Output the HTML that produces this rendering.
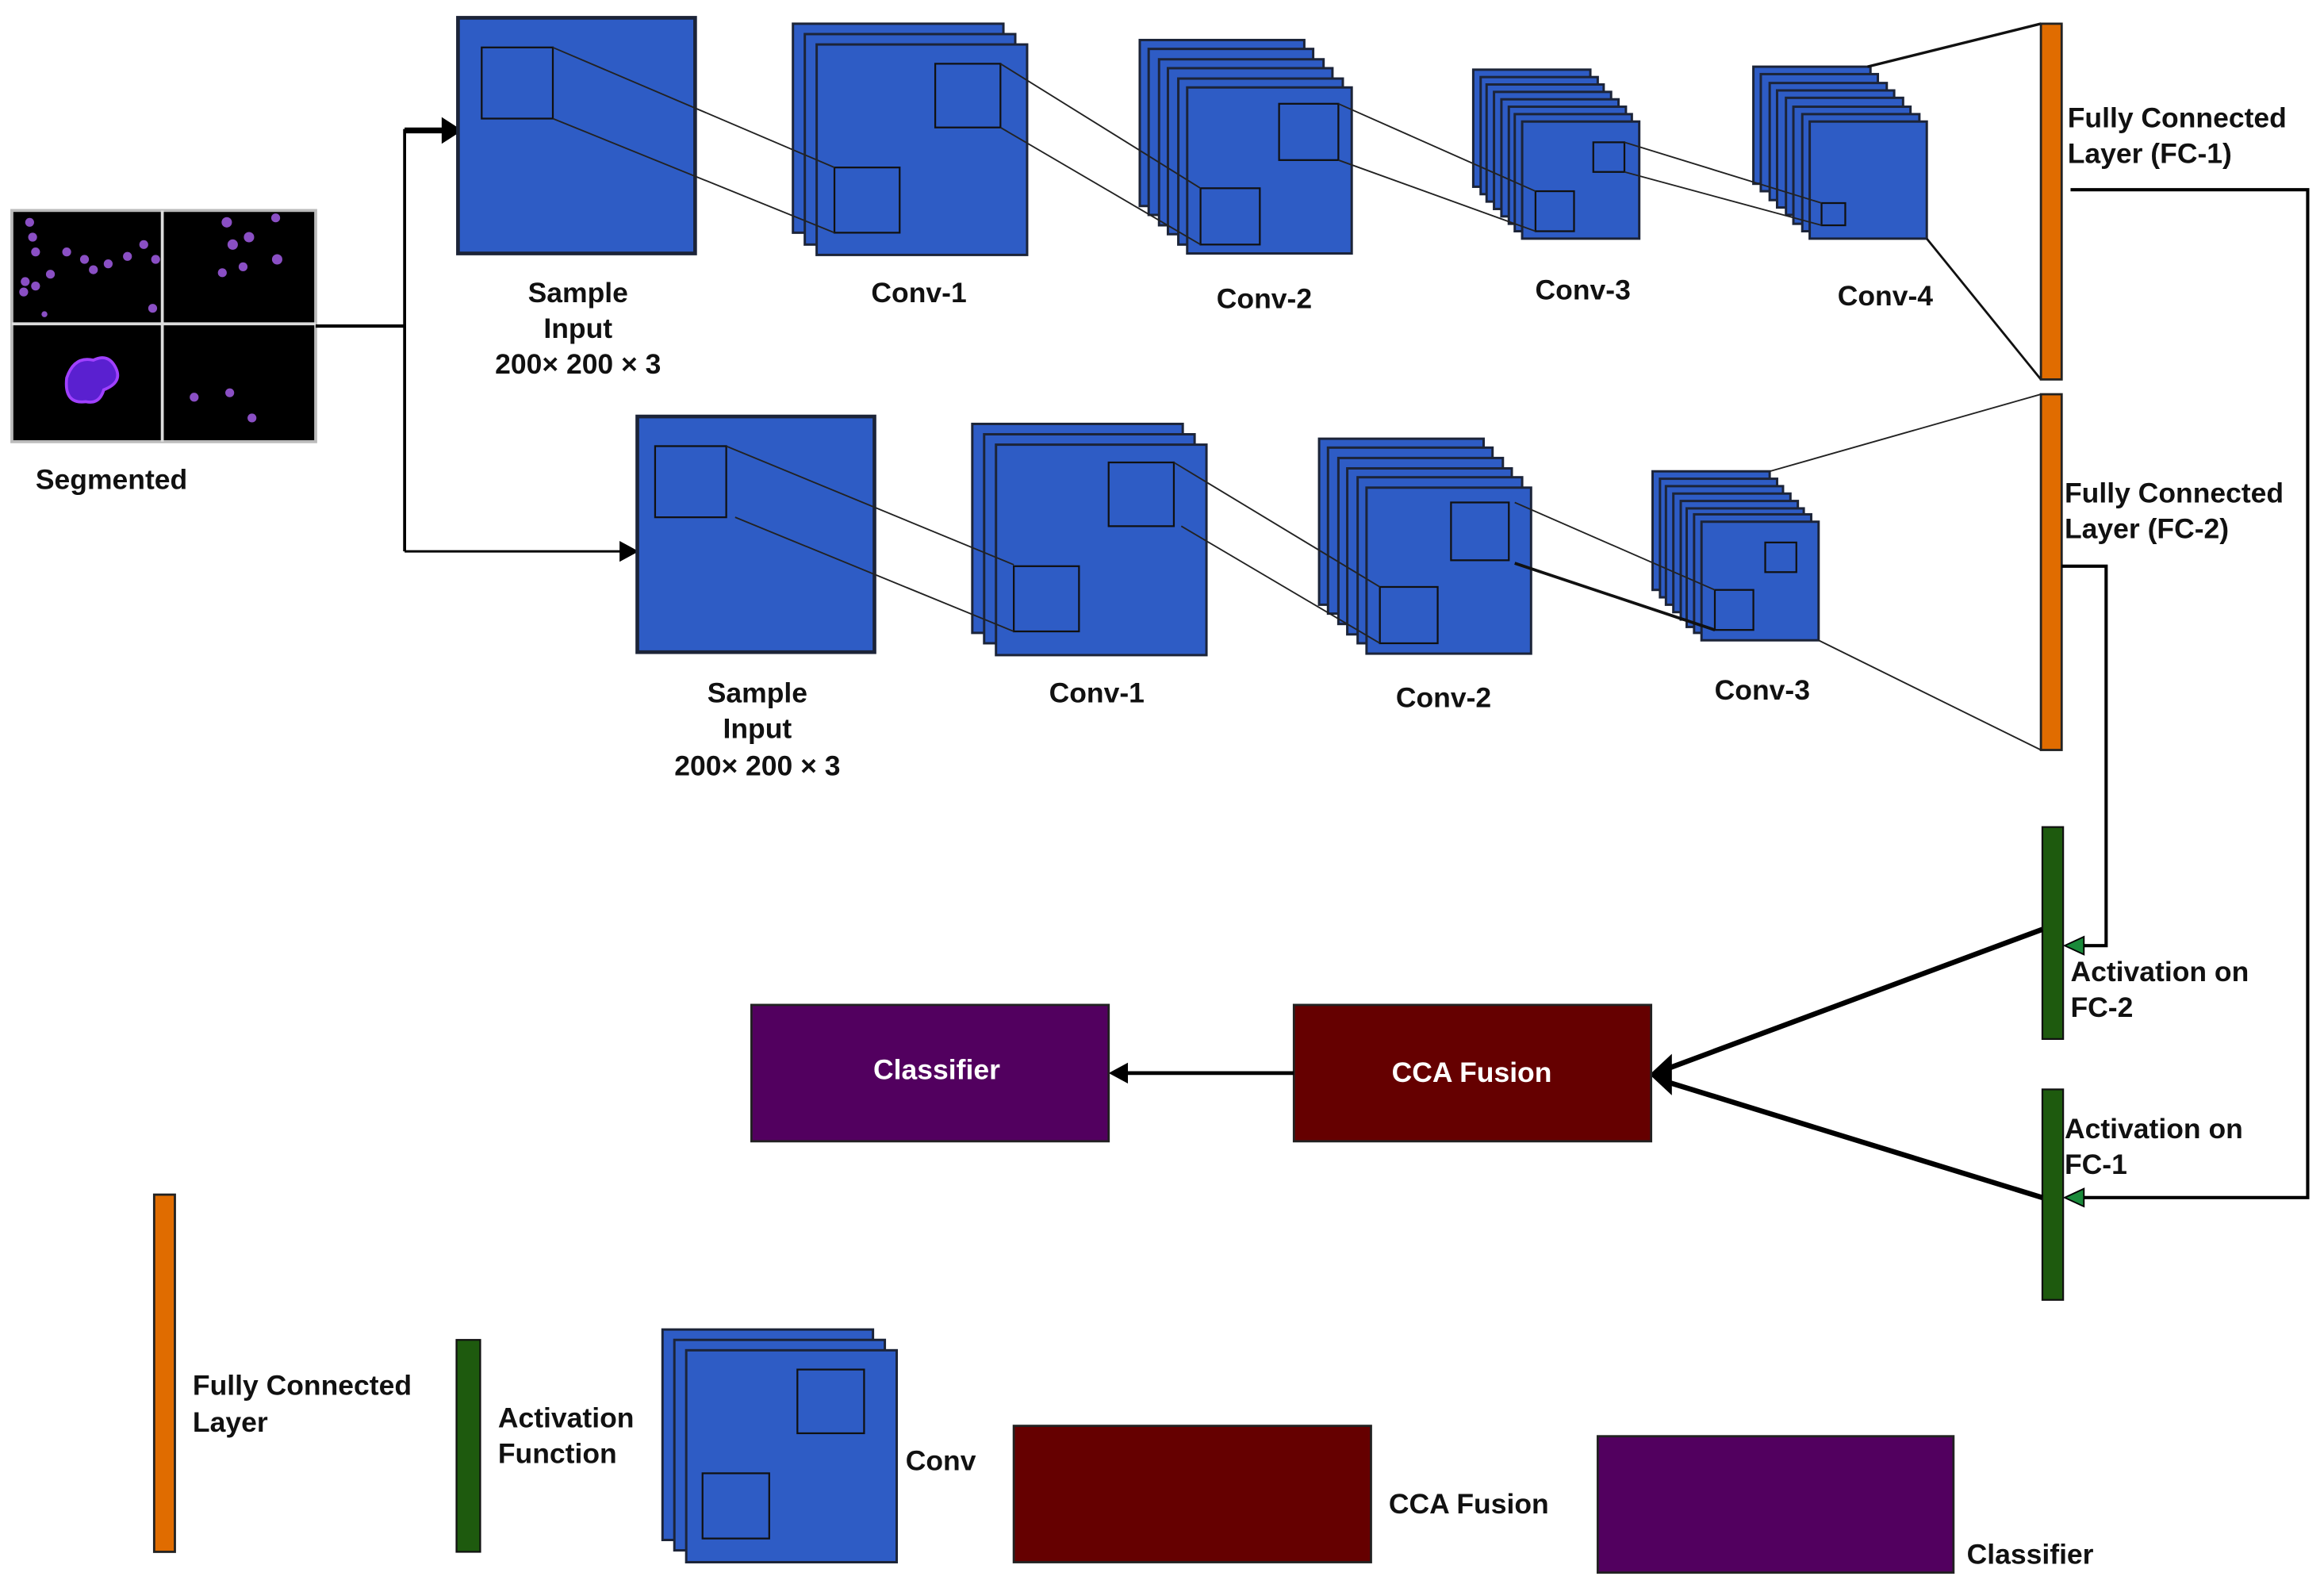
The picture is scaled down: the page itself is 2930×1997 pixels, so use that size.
<!DOCTYPE html>
<html><head><meta charset="utf-8"><style>
html,body{margin:0;padding:0;background:#fff;}
svg{display:block;}
text{font-family:"Liberation Sans",Arial,sans-serif;font-weight:bold;font-size:19px;fill:#111;}
.b{fill:#2e5cc5;stroke:#1c2438;stroke-width:1.6;}
.i{fill:none;stroke:#111;stroke-width:1.2;}
.l{stroke:#222;stroke-width:1;fill:none;}
.k{stroke:#000;stroke-width:2.2;fill:none;}
.w{fill:#fff;}
</style></head><body>
<svg width="2930" height="1997" viewBox="0 0 1568 1068.7" xmlns="http://www.w3.org/2000/svg">
<!-- segmented image -->
<rect x="8" y="142" width="205" height="156" fill="#000" stroke="#bbb" stroke-width="2"/>
<line x1="109.5" y1="142" x2="109.5" y2="298" stroke="#ddd" stroke-width="2"/>
<line x1="8" y1="218.5" x2="213" y2="218.5" stroke="#ddd" stroke-width="2"/>
<g fill="#8a4fc4">
<circle cx="20" cy="150" r="3"/><circle cx="22" cy="160" r="3"/><circle cx="24" cy="170" r="3"/><circle cx="34" cy="185" r="3"/><circle cx="45" cy="170" r="3"/><circle cx="57" cy="175" r="3"/><circle cx="63" cy="182" r="3"/><circle cx="73" cy="178" r="3"/><circle cx="17" cy="190" r="3"/><circle cx="24" cy="193" r="3"/><circle cx="16" cy="197" r="3"/><circle cx="86" cy="173" r="3"/><circle cx="97" cy="165" r="3"/><circle cx="105" cy="175" r="3"/><circle cx="103" cy="208" r="3"/><circle cx="30" cy="212" r="2"/>
<circle cx="153" cy="150" r="3.5"/><circle cx="186" cy="147" r="3"/><circle cx="157" cy="165" r="3.5"/><circle cx="168" cy="160" r="3.5"/><circle cx="164" cy="180" r="3"/><circle cx="150" cy="184" r="3"/><circle cx="187" cy="175" r="3.5"/>
<circle cx="131" cy="268" r="3"/><circle cx="155" cy="265" r="3"/><circle cx="170" cy="282" r="3"/>
</g>
<path d="M45 255 q5 -15 18 -12 q10 -5 15 5 q5 10 -8 15 q-3 10 -12 8 q-15 2 -13 -16z" fill="#5a20d0" stroke="#a040ff" stroke-width="2"/>
<text x="24" y="330">Segmented</text>
<!-- connectors from input -->
<polyline class="k" points="213,220 273,220"/>
<polyline class="k" points="273,372 273,88 300,88" style="stroke-width:2"/>
<line x1="273" y1="88" x2="300" y2="88" stroke="#000" stroke-width="4"/>
<polygon points="298,79 312,88 298,97" fill="#000"/>
<polyline class="k" points="273,372 420,372" style="stroke-width:1.6"/>
<polygon points="418,365 431,372 418,379" fill="#000"/>
<!-- top sample input -->
<rect class="b" x="309" y="12" width="160" height="159" style="stroke-width:2.5"/>
<rect class="i" x="325" y="32" width="48" height="48"/>
<text x="390" y="204" text-anchor="middle">Sample</text>
<text x="390" y="228" text-anchor="middle">Input</text>
<text x="390" y="252" text-anchor="middle">200× 200 × 3</text>
<!-- top conv1 -->
<rect class="b" x="535" y="16" width="142" height="141"/>
<rect class="b" x="543" y="23" width="142" height="142"/>
<rect class="b" x="551" y="30" width="142" height="142"/>
<rect class="i" x="631" y="43" width="44" height="43"/>
<rect class="i" x="563" y="113" width="44" height="44"/>
<line class="l" x1="373" y1="32" x2="563" y2="113"/>
<line class="l" x1="373" y1="80" x2="563" y2="157"/>
<text x="620" y="204" text-anchor="middle">Conv-1</text>
<!-- top conv2 -->
<rect class="b" x="769" y="27" width="111" height="112"/>
<rect class="b" x="775" y="33" width="111" height="112"/>
<rect class="b" x="782" y="40" width="111" height="112"/>
<rect class="b" x="788" y="46" width="111" height="112"/>
<rect class="b" x="795" y="53" width="111" height="112"/>
<rect class="b" x="801" y="59" width="111" height="112"/>
<rect class="i" x="863" y="70" width="40" height="38"/>
<rect class="i" x="810" y="127" width="40" height="38"/>
<line class="l" x1="675" y1="43" x2="810" y2="127"/>
<line class="l" x1="675" y1="86" x2="810" y2="165"/>
<text x="853" y="208" text-anchor="middle">Conv-2</text>
<!-- top conv3 -->
<rect class="b" x="994" y="47" width="79" height="79"/>
<rect class="b" x="999" y="52" width="79" height="79"/>
<rect class="b" x="1003" y="57" width="79" height="79"/>
<rect class="b" x="1008" y="62" width="79" height="79"/>
<rect class="b" x="1013" y="67" width="79" height="79"/>
<rect class="b" x="1018" y="72" width="79" height="79"/>
<rect class="b" x="1022" y="77" width="79" height="79"/>
<rect class="b" x="1027" y="82" width="79" height="79"/>
<rect class="i" x="1075" y="96" width="21" height="20"/>
<rect class="i" x="1036" y="129" width="26" height="27"/>
<line class="l" x1="903" y1="70" x2="1036" y2="129"/>
<line class="l" x1="903" y1="108" x2="1036" y2="156"/>
<text x="1068" y="202" text-anchor="middle">Conv-3</text>
<!-- top conv4 -->
<rect class="b" x="1183" y="45" width="79" height="79"/>
<rect class="b" x="1188" y="50" width="79" height="79"/>
<rect class="b" x="1194" y="56" width="79" height="79"/>
<rect class="b" x="1199" y="61" width="79" height="79"/>
<rect class="b" x="1205" y="66" width="79" height="79"/>
<rect class="b" x="1210" y="72" width="79" height="79"/>
<rect class="b" x="1216" y="77" width="79" height="79"/>
<rect class="b" x="1221" y="82" width="79" height="79"/>
<rect class="i" x="1229" y="137" width="16" height="15"/>
<line class="l" x1="1096" y1="96" x2="1229" y2="137"/>
<line class="l" x1="1096" y1="116" x2="1229" y2="152"/>
<text x="1272" y="206" text-anchor="middle">Conv-4</text>
<line x1="1260" y1="45" x2="1377" y2="16" stroke="#111" stroke-width="1.8"/>
<line x1="1300" y1="161" x2="1377" y2="256" stroke="#111" stroke-width="1.5"/>
<!-- FC1 -->
<rect x="1377" y="16" width="14" height="240" fill="#e06c00" stroke="#222" stroke-width="1.5"/>
<text x="1395" y="86">Fully Connected</text>
<text x="1395" y="110">Layer (FC-1)</text>
<polyline class="k" points="1397,128 1557,128 1557,808 1400,808"/>
<polygon points="1393,808 1406,802 1406,814" fill="#1a8a3a" stroke="#000" stroke-width="1"/>
<!-- bottom sample input -->
<rect class="b" x="430" y="281" width="160" height="159" style="stroke-width:2.5"/>
<rect class="i" x="442" y="301" width="48" height="48"/>
<text x="511" y="474" text-anchor="middle">Sample</text>
<text x="511" y="498" text-anchor="middle">Input</text>
<text x="511" y="523" text-anchor="middle">200× 200 × 3</text>
<!-- bottom conv1 -->
<rect class="b" x="656" y="286" width="142" height="141"/>
<rect class="b" x="664" y="293" width="142" height="141"/>
<rect class="b" x="672" y="300" width="142" height="142"/>
<rect class="i" x="748" y="312" width="44" height="43"/>
<rect class="i" x="684" y="382" width="44" height="44"/>
<line class="l" x1="490" y1="301" x2="684" y2="381"/>
<line class="l" x1="496" y1="349" x2="684" y2="426"/>
<text x="740" y="474" text-anchor="middle">Conv-1</text>
<!-- bottom conv2 -->
<rect class="b" x="890" y="296" width="111" height="112"/>
<rect class="b" x="896" y="302" width="111" height="112"/>
<rect class="b" x="903" y="309" width="111" height="112"/>
<rect class="b" x="909" y="316" width="111" height="112"/>
<rect class="b" x="916" y="322" width="111" height="112"/>
<rect class="b" x="922" y="329" width="111" height="112"/>
<rect class="i" x="979" y="339" width="39" height="39"/>
<rect class="i" x="931" y="396" width="39" height="38"/>
<line class="l" x1="792" y1="312" x2="931" y2="396"/>
<line class="l" x1="797" y1="355" x2="931" y2="434"/>
<text x="974" y="477" text-anchor="middle">Conv-2</text>
<!-- bottom conv3 -->
<rect class="b" x="1115" y="318" width="79" height="80"/>
<rect class="b" x="1120" y="323" width="79" height="80"/>
<rect class="b" x="1124" y="328" width="79" height="80"/>
<rect class="b" x="1129" y="333" width="79" height="80"/>
<rect class="b" x="1134" y="338" width="79" height="80"/>
<rect class="b" x="1138" y="343" width="79" height="80"/>
<rect class="b" x="1143" y="347" width="79" height="80"/>
<rect class="b" x="1148" y="352" width="79" height="80"/>
<rect class="i" x="1191" y="366" width="21" height="20"/>
<rect class="i" x="1157" y="398" width="26" height="27"/>
<line class="l" x1="1022" y1="339" x2="1157" y2="398"/>
<line x1="1022" y1="380" x2="1157" y2="425" stroke="#111" stroke-width="2"/>
<text x="1189" y="472" text-anchor="middle">Conv-3</text>
<line class="l" x1="1194" y1="318" x2="1377" y2="266"/>
<line class="l" x1="1227" y1="432" x2="1377" y2="506"/>
<!-- FC2 -->
<rect x="1377" y="266" width="14" height="240" fill="#e06c00" stroke="#222" stroke-width="1.5"/>
<text x="1393" y="339">Fully Connected</text>
<text x="1393" y="363">Layer (FC-2)</text>
<polyline class="k" points="1391,382 1421,382 1421,638 1400,638"/>
<polygon points="1393,638 1406,632 1406,644" fill="#1a8a3a" stroke="#000" stroke-width="1"/>
<!-- activations -->
<rect x="1378" y="558" width="14" height="143" fill="#1e5a0e" stroke="#111" stroke-width="1.2"/>
<rect x="1378" y="735" width="14" height="142" fill="#1e5a0e" stroke="#111" stroke-width="1.2"/>
<text x="1397" y="662">Activation on</text>
<text x="1397" y="686">FC-2</text>
<text x="1393" y="768">Activation on</text>
<text x="1393" y="792">FC-1</text>
<line x1="1378" y1="627" x2="1125" y2="721" stroke="#000" stroke-width="3.5"/>
<line x1="1378" y1="808" x2="1125" y2="730" stroke="#000" stroke-width="3.5"/>
<polygon points="1113,725 1128,711 1128,739" fill="#000"/>
<!-- CCA fusion & classifier -->
<rect x="873" y="678" width="241" height="92" fill="#650000" stroke="#222" stroke-width="1.5"/>
<text x="993" y="730" text-anchor="middle" class="w" style="fill:#fff">CCA Fusion</text>
<line x1="873" y1="724" x2="758" y2="724" stroke="#000" stroke-width="2.5"/>
<polygon points="748,724 761,717 761,731" fill="#000"/>
<rect x="507" y="678" width="241" height="92" fill="#52005f" stroke="#222" stroke-width="1.5"/>
<text x="632" y="728" text-anchor="middle" style="fill:#fff">Classifier</text>
<!-- legend -->
<rect x="104" y="806" width="14" height="241" fill="#e06c00" stroke="#222" stroke-width="1.5"/>
<text x="130" y="941">Fully Connected</text>
<text x="130" y="966">Layer</text>
<rect x="308" y="904" width="16" height="143" fill="#1e5a0e" stroke="#111" stroke-width="1.2"/>
<text x="336" y="963">Activation</text>
<text x="336" y="987">Function</text>
<rect class="b" x="447" y="897" width="142" height="142"/>
<rect class="b" x="455" y="904" width="142" height="142"/>
<rect class="b" x="463" y="911" width="142" height="143"/>
<rect class="i" x="538" y="924" width="45" height="43"/>
<rect class="i" x="474" y="994" width="45" height="44"/>
<text x="611" y="992">Conv</text>
<rect x="684" y="962" width="241" height="92" fill="#650000" stroke="#222" stroke-width="1.5"/>
<text x="937" y="1021">CCA Fusion</text>
<rect x="1078" y="969" width="240" height="92" fill="#52005f" stroke="#222" stroke-width="1.5"/>
<text x="1327" y="1055">Classifier</text>
</svg>
</body></html>
